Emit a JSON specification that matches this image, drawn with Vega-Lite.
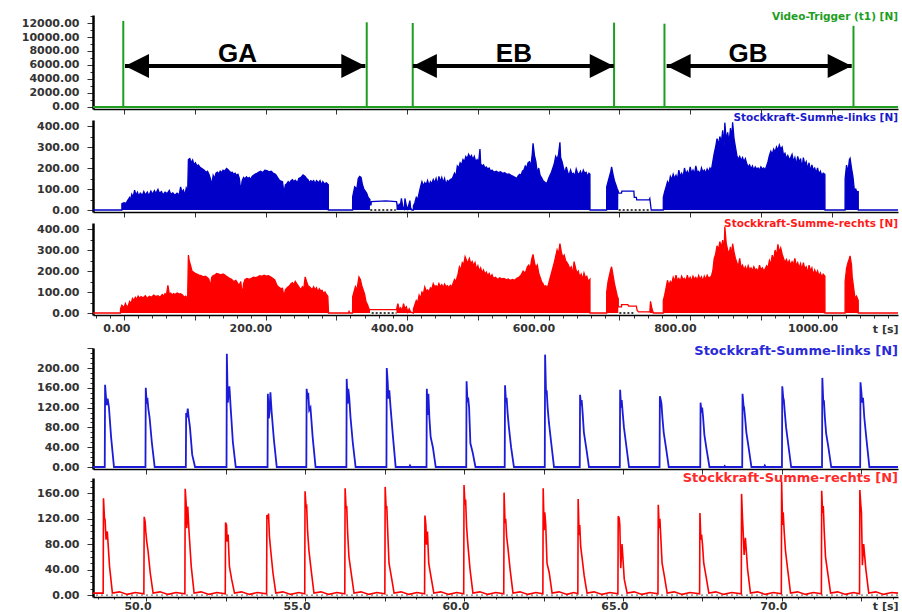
{
"$schema": "https://vega.github.io/schema/vega-lite/v6.json",
"background": "white",
"padding": {"left": 21, "top": 10, "right": 4, "bottom": 0},
"config": {
  "view": {"stroke": null},
  "axis": {"grid": false, "domainColor": "#000000", "tickColor": "#333333", "labelFont": "DejaVu Sans", "labelFontWeight": "bold", "labelFontSize": 11, "labelColor": "#333333", "labelOverlap": false, "titleFont": "DejaVu Sans", "tickCount": 500},
  "axisX": {"domainWidth": 1.5, "tickSize": 5},
  "axisY": {"domainWidth": 2.5, "tickSize": 6, "labelPadding": 8},
  "title": {"font": "DejaVu Sans", "fontSize": 10.5, "fontWeight": "bold", "anchor": "end", "frame": "group"}
},
"datasets": {
  "trig": [{"t":-1,"h":12300},{"t":343,"h":12100},{"t":408,"h":12000},{"t":692.5,"h":12050},{"t":763.7,"h":11900},{"t":1030.8,"h":11600}],
  "arrows": [{"a":1.4,"b":341},{"a":408.2,"b":692},{"a":766.8,"b":1028.3}],
  "heads": [{"t":1.4,"d":"L"},{"t":341,"d":"R"},{"t":408.2,"d":"L"},{"t":692,"d":"R"},{"t":766.8,"d":"L"},{"t":1028.3,"d":"R"}],
  "labels": [{"t":160.4,"s":"GA"},{"t":551,"s":"EB"},{"t":881.7,"s":"GB"}],
  "dotsB": [{"a":348,"b":384},{"a":699,"b":743}],
  "dotsR": [{"a":350,"b":385},{"a":700,"b":720}],
  "blueTop": [
{"t":-43.8,"v":0,"l":0},{"t":-3,"v":0,"l":0},{"t":-3,"v":30,"l":0},{"t":0,"v":35,"l":0},{"t":3,"v":32,"l":0},{"t":5,"v":45,"l":0},{"t":8,"v":60,"l":0},{"t":9,"v":40,"l":0},{"t":11,"v":75,"l":0},{"t":13,"v":62,"l":0},{"t":15,"v":95,"l":0},{"t":17,"v":70,"l":0},{"t":19,"v":85,"l":0},{"t":21,"v":65,"l":0},{"t":23,"v":80,"l":0},{"t":26,"v":70,"l":0},{"t":28,"v":88,"l":0},{"t":30,"v":72,"l":0},{"t":33,"v":85,"l":0},{"t":35,"v":68,"l":0},{"t":38,"v":90,"l":0},{"t":40,"v":75,"l":0},{"t":43,"v":92,"l":0},{"t":45,"v":78,"l":0},{"t":48,"v":98,"l":0},{"t":50,"v":80,"l":0},{"t":53,"v":88,"l":0},{"t":55,"v":72,"l":0},{"t":58,"v":85,"l":0},{"t":61,"v":78,"l":0},{"t":64,"v":93,"l":0},{"t":66,"v":75,"l":0},{"t":69,"v":82,"l":0},{"t":72,"v":70,"l":0},{"t":75,"v":80,"l":0},{"t":78,"v":72,"l":0},{"t":80,"v":110,"l":0},{"t":82,"v":85,"l":0},{"t":84,"v":95,"l":0},{"t":86,"v":70,"l":0},{"t":88,"v":105,"l":0},{"t":90,"v":90,"l":0},
{"t":91,"v":240,"l":0},{"t":93,"v":245,"l":0},{"t":95,"v":225,"l":0},{"t":97,"v":238,"l":0},{"t":99,"v":215,"l":0},{"t":101,"v":225,"l":0},{"t":103,"v":210,"l":0},{"t":105,"v":215,"l":0},{"t":107,"v":205,"l":0},{"t":110,"v":198,"l":0},{"t":113,"v":190,"l":0},{"t":116,"v":180,"l":0},{"t":118,"v":185,"l":0},{"t":120,"v":170,"l":0},{"t":122,"v":150,"l":0},{"t":124,"v":120,"l":0},{"t":126,"v":165,"l":0},{"t":128,"v":150,"l":0},{"t":130,"v":175,"l":0},{"t":132,"v":180,"l":0},{"t":134,"v":172,"l":0},{"t":136,"v":185,"l":0},{"t":138,"v":178,"l":0},{"t":140,"v":190,"l":0},{"t":142,"v":185,"l":0},{"t":145,"v":198,"l":0},{"t":147,"v":192,"l":0},{"t":149,"v":185,"l":0},{"t":151,"v":178,"l":0},{"t":153,"v":180,"l":0},{"t":155,"v":170,"l":0},{"t":157,"v":175,"l":0},{"t":159,"v":165,"l":0},{"t":161,"v":170,"l":0},{"t":163,"v":150,"l":0},{"t":165,"v":90,"l":0},{"t":167,"v":140,"l":0},{"t":169,"v":155,"l":0},{"t":171,"v":148,"l":0},{"t":173,"v":158,"l":0},{"t":175,"v":150,"l":0},{"t":177,"v":155,"l":0},{"t":179,"v":145,"l":0},{"t":181,"v":160,"l":0},{"t":183,"v":165,"l":0},{"t":186,"v":172,"l":0},{"t":188,"v":175,"l":0},{"t":190,"v":180,"l":0},{"t":193,"v":185,"l":0},{"t":196,"v":178,"l":0},{"t":199,"v":190,"l":0},{"t":202,"v":188,"l":0},{"t":205,"v":182,"l":0},{"t":208,"v":185,"l":0},{"t":211,"v":175,"l":0},{"t":214,"v":170,"l":0},{"t":216,"v":160,"l":0},{"t":218,"v":150,"l":0},{"t":220,"v":140,"l":0},{"t":222,"v":138,"l":0},{"t":224,"v":135,"l":0},{"t":226,"v":80,"l":0},{"t":228,"v":120,"l":0},{"t":230,"v":125,"l":0},{"t":232,"v":135,"l":0},{"t":234,"v":128,"l":0},{"t":236,"v":140,"l":0},{"t":238,"v":145,"l":0},{"t":240,"v":135,"l":0},{"t":242,"v":142,"l":0},{"t":245,"v":130,"l":0},{"t":247,"v":150,"l":0},{"t":250,"v":155,"l":0},{"t":253,"v":167,"l":0},{"t":256,"v":160,"l":0},{"t":258,"v":150,"l":0},{"t":260,"v":145,"l":0},{"t":262,"v":130,"l":0},{"t":264,"v":140,"l":0},{"t":266,"v":135,"l":0},{"t":268,"v":140,"l":0},{"t":270,"v":125,"l":0},{"t":272,"v":140,"l":0},{"t":275,"v":130,"l":0},{"t":277,"v":140,"l":0},{"t":279,"v":120,"l":0},{"t":281,"v":135,"l":0},{"t":283,"v":125,"l":0},{"t":286,"v":130,"l":0},{"t":288.7,"v":120,"l":0},{"t":288.8,"v":0,"l":0},
{"t":323,"v":0,"l":0},{"t":323.1,"v":63,"l":0},{"t":326,"v":110,"l":0},{"t":329,"v":100,"l":0},{"t":331,"v":150,"l":0},{"t":333,"v":160,"l":0},{"t":335,"v":155,"l":0},{"t":337,"v":120,"l":0},{"t":339,"v":100,"l":0},{"t":341,"v":90,"l":0},{"t":343,"v":80,"l":0},{"t":345,"v":60,"l":0},{"t":347.5,"v":50,"l":0},{"t":347.6,"v":24,"l":24},{"t":349,"v":24,"l":24},{"t":349.5,"v":40,"l":40},{"t":370,"v":43,"l":43},{"t":385,"v":40,"l":40},{"t":385.1,"v":40,"l":0},{"t":387,"v":10,"l":0},{"t":389,"v":30,"l":0},{"t":390,"v":10,"l":0},{"t":392,"v":55,"l":0},{"t":394,"v":15,"l":0},{"t":396,"v":5,"l":0},{"t":397,"v":55,"l":0},{"t":399,"v":20,"l":0},{"t":401,"v":5,"l":0},{"t":404,"v":45,"l":0},{"t":405,"v":10,"l":0},{"t":407,"v":0,"l":0},{"t":408.8,"v":0,"l":0},
{"t":409,"v":20,"l":0},{"t":411,"v":35,"l":0},{"t":413,"v":60,"l":0},{"t":415,"v":50,"l":0},{"t":417,"v":80,"l":0},{"t":419,"v":110,"l":0},{"t":421,"v":135,"l":0},{"t":423,"v":115,"l":0},{"t":425,"v":130,"l":0},{"t":427,"v":120,"l":0},{"t":429,"v":140,"l":0},{"t":431,"v":115,"l":0},{"t":433,"v":135,"l":0},{"t":435,"v":125,"l":0},{"t":437,"v":145,"l":0},{"t":439,"v":130,"l":0},{"t":441,"v":150,"l":0},{"t":443,"v":120,"l":0},{"t":445,"v":160,"l":0},{"t":447,"v":135,"l":0},{"t":449,"v":155,"l":0},{"t":451,"v":130,"l":0},{"t":453,"v":150,"l":0},{"t":455,"v":120,"l":0},{"t":457,"v":140,"l":0},{"t":459,"v":135,"l":0},{"t":461,"v":145,"l":0},{"t":464,"v":150,"l":0},{"t":467,"v":175,"l":0},{"t":469,"v":160,"l":0},{"t":471,"v":210,"l":0},{"t":473,"v":200,"l":0},{"t":475,"v":225,"l":0},{"t":477,"v":215,"l":0},{"t":479,"v":240,"l":0},{"t":481,"v":230,"l":0},{"t":483,"v":255,"l":0},{"t":485,"v":245,"l":0},{"t":487,"v":265,"l":0},{"t":489,"v":250,"l":0},{"t":491,"v":260,"l":0},{"t":493,"v":240,"l":0},{"t":495,"v":255,"l":0},{"t":497,"v":230,"l":0},{"t":499,"v":240,"l":0},{"t":501,"v":225,"l":0},{"t":503,"v":290,"l":0},{"t":504,"v":220,"l":0},{"t":506,"v":210,"l":0},{"t":508,"v":215,"l":0},{"t":510,"v":200,"l":0},{"t":512,"v":205,"l":0},{"t":514,"v":195,"l":0},{"t":516,"v":200,"l":0},{"t":518,"v":185,"l":0},{"t":520,"v":190,"l":0},{"t":523,"v":180,"l":0},{"t":526,"v":185,"l":0},{"t":529,"v":178,"l":0},{"t":532,"v":182,"l":0},{"t":535,"v":175,"l":0},{"t":538,"v":178,"l":0},{"t":541,"v":170,"l":0},{"t":544,"v":172,"l":0},{"t":547,"v":165,"l":0},{"t":550,"v":160,"l":0},{"t":553,"v":155,"l":0},{"t":555,"v":150,"l":0},{"t":557,"v":162,"l":0},{"t":559,"v":170,"l":0},{"t":561,"v":165,"l":0},{"t":563,"v":185,"l":0},{"t":565,"v":190,"l":0},{"t":567,"v":210,"l":0},{"t":569,"v":200,"l":0},{"t":571,"v":225,"l":0},{"t":573,"v":230,"l":0},{"t":575,"v":210,"l":0},{"t":577,"v":270,"l":0},{"t":578,"v":318,"l":0},{"t":580,"v":260,"l":0},{"t":582,"v":230,"l":0},{"t":584,"v":175,"l":0},{"t":586,"v":200,"l":0},{"t":588,"v":165,"l":0},{"t":590,"v":155,"l":0},{"t":592,"v":140,"l":0},{"t":594,"v":135,"l":0},{"t":596,"v":128,"l":0},{"t":598,"v":130,"l":0},{"t":600,"v":150,"l":0},{"t":602,"v":165,"l":0},{"t":604,"v":180,"l":0},{"t":606,"v":200,"l":0},{"t":608,"v":220,"l":0},{"t":610,"v":255,"l":0},{"t":612,"v":240,"l":0},{"t":614,"v":265,"l":0},{"t":616,"v":322,"l":0},{"t":617,"v":250,"l":0},{"t":619,"v":230,"l":0},{"t":621,"v":200,"l":0},{"t":623,"v":175,"l":0},{"t":625,"v":205,"l":0},{"t":627,"v":180,"l":0},{"t":629,"v":165,"l":0},{"t":631,"v":190,"l":0},{"t":633,"v":170,"l":0},{"t":635,"v":175,"l":0},{"t":637,"v":160,"l":0},{"t":639,"v":195,"l":0},{"t":641,"v":175,"l":0},{"t":643,"v":170,"l":0},{"t":645,"v":185,"l":0},{"t":647,"v":165,"l":0},{"t":649,"v":190,"l":0},{"t":651,"v":175,"l":0},{"t":653,"v":180,"l":0},{"t":655,"v":160,"l":0},{"t":657,"v":175,"l":0},{"t":658.4,"v":170,"l":0},{"t":658.5,"v":0,"l":0},
{"t":682,"v":0,"l":0},{"t":682.1,"v":110,"l":0},{"t":684,"v":135,"l":0},{"t":686,"v":160,"l":0},{"t":688,"v":185,"l":0},{"t":689,"v":206,"l":0},{"t":691,"v":170,"l":0},{"t":693,"v":140,"l":0},{"t":695,"v":120,"l":0},{"t":697,"v":100,"l":0},{"t":698.4,"v":90,"l":0},{"t":698.5,"v":80,"l":80},{"t":703,"v":80,"l":80},{"t":703.5,"v":90,"l":90},{"t":720.5,"v":90,"l":90},{"t":721,"v":60,"l":60},{"t":724,"v":60,"l":60},{"t":724.5,"v":48,"l":48},{"t":742,"v":48,"l":48},{"t":743,"v":55,"l":55},{"t":745,"v":0,"l":0},
{"t":762,"v":0,"l":0},{"t":762.1,"v":60,"l":0},{"t":764,"v":87,"l":0},{"t":766,"v":110,"l":0},{"t":768,"v":135,"l":0},{"t":770,"v":120,"l":0},{"t":772,"v":160,"l":0},{"t":774,"v":145,"l":0},{"t":776,"v":170,"l":0},{"t":778,"v":150,"l":0},{"t":780,"v":165,"l":0},{"t":782,"v":145,"l":0},{"t":784,"v":190,"l":0},{"t":786,"v":160,"l":0},{"t":788,"v":175,"l":0},{"t":790,"v":155,"l":0},{"t":792,"v":200,"l":0},{"t":794,"v":170,"l":0},{"t":796,"v":185,"l":0},{"t":798,"v":165,"l":0},{"t":800,"v":205,"l":0},{"t":802,"v":175,"l":0},{"t":804,"v":190,"l":0},{"t":806,"v":170,"l":0},{"t":808,"v":210,"l":0},{"t":810,"v":180,"l":0},{"t":812,"v":185,"l":0},{"t":814,"v":170,"l":0},{"t":816,"v":200,"l":0},{"t":818,"v":180,"l":0},{"t":820,"v":190,"l":0},{"t":822,"v":175,"l":0},{"t":824,"v":195,"l":0},{"t":826,"v":180,"l":0},{"t":828,"v":200,"l":0},{"t":830,"v":190,"l":0},{"t":832,"v":230,"l":0},{"t":834,"v":270,"l":0},{"t":836,"v":300,"l":0},{"t":838,"v":340,"l":0},{"t":840,"v":310,"l":0},{"t":842,"v":350,"l":0},{"t":844,"v":320,"l":0},{"t":846,"v":380,"l":0},{"t":848,"v":300,"l":0},{"t":849,"v":416,"l":0},{"t":851,"v":330,"l":0},{"t":853,"v":370,"l":0},{"t":855,"v":320,"l":0},{"t":857,"v":390,"l":0},{"t":859,"v":340,"l":0},{"t":860,"v":418,"l":0},{"t":862,"v":340,"l":0},{"t":864,"v":300,"l":0},{"t":866,"v":260,"l":0},{"t":868,"v":240,"l":0},{"t":870,"v":255,"l":0},{"t":872,"v":235,"l":0},{"t":874,"v":250,"l":0},{"t":876,"v":230,"l":0},{"t":878,"v":245,"l":0},{"t":880,"v":220,"l":0},{"t":882,"v":205,"l":0},{"t":884,"v":215,"l":0},{"t":886,"v":195,"l":0},{"t":888,"v":210,"l":0},{"t":890,"v":190,"l":0},{"t":892,"v":205,"l":0},{"t":894,"v":195,"l":0},{"t":896,"v":200,"l":0},{"t":898,"v":190,"l":0},{"t":900,"v":205,"l":0},{"t":902,"v":195,"l":0},{"t":904,"v":200,"l":0},{"t":906,"v":190,"l":0},{"t":908,"v":210,"l":0},{"t":910,"v":230,"l":0},{"t":912,"v":260,"l":0},{"t":914,"v":280,"l":0},{"t":916,"v":265,"l":0},{"t":918,"v":290,"l":0},{"t":920,"v":275,"l":0},{"t":922,"v":300,"l":0},{"t":924,"v":285,"l":0},{"t":926,"v":310,"l":0},{"t":928,"v":290,"l":0},{"t":930,"v":300,"l":0},{"t":932,"v":260,"l":0},{"t":934,"v":270,"l":0},{"t":936,"v":245,"l":0},{"t":938,"v":260,"l":0},{"t":940,"v":240,"l":0},{"t":942,"v":250,"l":0},{"t":944,"v":265,"l":0},{"t":946,"v":230,"l":0},{"t":948,"v":250,"l":0},{"t":950,"v":215,"l":0},{"t":952,"v":255,"l":0},{"t":954,"v":225,"l":0},{"t":956,"v":245,"l":0},{"t":958,"v":200,"l":0},{"t":960,"v":250,"l":0},{"t":962,"v":215,"l":0},{"t":964,"v":230,"l":0},{"t":966,"v":195,"l":0},{"t":968,"v":225,"l":0},{"t":970,"v":185,"l":0},{"t":972,"v":215,"l":0},{"t":974,"v":190,"l":0},{"t":976,"v":200,"l":0},{"t":978,"v":175,"l":0},{"t":980,"v":200,"l":0},{"t":982,"v":170,"l":0},{"t":984,"v":185,"l":0},{"t":986,"v":165,"l":0},{"t":988,"v":175,"l":0},{"t":990.4,"v":170,"l":0},{"t":990.5,"v":0,"l":0},
{"t":1018.9,"v":0,"l":0},{"t":1019,"v":150,"l":0},{"t":1021,"v":214,"l":0},{"t":1023,"v":180,"l":0},{"t":1025,"v":240,"l":0},{"t":1026,"v":246,"l":0},{"t":1028,"v":200,"l":0},{"t":1030,"v":160,"l":0},{"t":1032,"v":95,"l":0},{"t":1034,"v":100,"l":0},{"t":1036,"v":80,"l":0},{"t":1037.5,"v":90,"l":0},{"t":1037.6,"v":0,"l":0},{"t":1093.7,"v":0,"l":0}
  ],
  "redTop": [
{"t":-43.8,"v":0,"l":0},{"t":-5,"v":0,"l":0},{"t":-4.9,"v":20,"l":0},{"t":-3,"v":37,"l":0},{"t":0,"v":25,"l":0},{"t":2,"v":45,"l":0},{"t":4,"v":30,"l":0},{"t":6,"v":35,"l":0},{"t":8,"v":55,"l":0},{"t":10,"v":45,"l":0},{"t":12,"v":69,"l":0},{"t":14,"v":60,"l":0},{"t":16,"v":75,"l":0},{"t":18,"v":65,"l":0},{"t":20,"v":80,"l":0},{"t":22,"v":70,"l":0},{"t":24,"v":78,"l":0},{"t":27,"v":72,"l":0},{"t":30,"v":82,"l":0},{"t":33,"v":70,"l":0},{"t":36,"v":80,"l":0},{"t":39,"v":75,"l":0},{"t":42,"v":85,"l":0},{"t":45,"v":78,"l":0},{"t":48,"v":82,"l":0},{"t":51,"v":75,"l":0},{"t":54,"v":88,"l":0},{"t":56,"v":80,"l":0},{"t":58,"v":92,"l":0},{"t":60,"v":85,"l":0},{"t":62,"v":132,"l":0},{"t":64,"v":90,"l":0},{"t":66,"v":95,"l":0},{"t":68,"v":85,"l":0},{"t":70,"v":92,"l":0},{"t":72,"v":88,"l":0},{"t":75,"v":95,"l":0},{"t":78,"v":90,"l":0},{"t":80,"v":92,"l":0},{"t":83,"v":85,"l":0},{"t":85,"v":75,"l":0},{"t":87,"v":80,"l":0},{"t":89,"v":70,"l":0},{"t":90,"v":85,"l":0},
{"t":91,"v":276,"l":0},{"t":92,"v":250,"l":0},{"t":94,"v":228,"l":0},{"t":96,"v":200,"l":0},{"t":98,"v":195,"l":0},{"t":100,"v":190,"l":0},{"t":103,"v":185,"l":0},{"t":106,"v":180,"l":0},{"t":109,"v":178,"l":0},{"t":112,"v":172,"l":0},{"t":115,"v":175,"l":0},{"t":118,"v":168,"l":0},{"t":120,"v":160,"l":0},{"t":122,"v":124,"l":0},{"t":124,"v":170,"l":0},{"t":126,"v":178,"l":0},{"t":128,"v":180,"l":0},{"t":131,"v":188,"l":0},{"t":134,"v":185,"l":0},{"t":137,"v":182,"l":0},{"t":140,"v":186,"l":0},{"t":143,"v":180,"l":0},{"t":146,"v":172,"l":0},{"t":149,"v":165,"l":0},{"t":152,"v":160,"l":0},{"t":155,"v":150,"l":0},{"t":158,"v":155,"l":0},{"t":161,"v":140,"l":0},{"t":163,"v":132,"l":0},{"t":165,"v":150,"l":0},{"t":167,"v":85,"l":0},{"t":169,"v":140,"l":0},{"t":171,"v":160,"l":0},{"t":174,"v":165,"l":0},{"t":177,"v":160,"l":0},{"t":180,"v":165,"l":0},{"t":183,"v":170,"l":0},{"t":186,"v":168,"l":0},{"t":189,"v":172,"l":0},{"t":192,"v":178,"l":0},{"t":195,"v":175,"l":0},{"t":198,"v":180,"l":0},{"t":201,"v":176,"l":0},{"t":204,"v":178,"l":0},{"t":207,"v":172,"l":0},{"t":210,"v":165,"l":0},{"t":213,"v":158,"l":0},{"t":216,"v":132,"l":0},{"t":218,"v":125,"l":0},{"t":220,"v":120,"l":0},{"t":222,"v":116,"l":0},{"t":224,"v":118,"l":0},{"t":226,"v":77,"l":0},{"t":228,"v":110,"l":0},{"t":230,"v":118,"l":0},{"t":232,"v":125,"l":0},{"t":234,"v":130,"l":0},{"t":236,"v":140,"l":0},{"t":238,"v":145,"l":0},{"t":240,"v":135,"l":0},{"t":242,"v":151,"l":0},{"t":244,"v":140,"l":0},{"t":246,"v":130,"l":0},{"t":248,"v":120,"l":0},{"t":250,"v":112,"l":0},{"t":252,"v":125,"l":0},{"t":254,"v":115,"l":0},{"t":256,"v":172,"l":0},{"t":258,"v":150,"l":0},{"t":260,"v":130,"l":0},{"t":262,"v":125,"l":0},{"t":264,"v":118,"l":0},{"t":266,"v":112,"l":0},{"t":268,"v":125,"l":0},{"t":270,"v":110,"l":0},{"t":272,"v":120,"l":0},{"t":274,"v":100,"l":0},{"t":276,"v":115,"l":0},{"t":278,"v":105,"l":0},{"t":280,"v":108,"l":0},{"t":282,"v":92,"l":0},{"t":284,"v":100,"l":0},{"t":286,"v":88,"l":0},{"t":288,"v":80,"l":0},{"t":289,"v":0,"l":0},
{"t":317,"v":0,"l":0},{"t":318,"v":8,"l":0},{"t":319,"v":0,"l":0},{"t":323,"v":0,"l":0},{"t":323.1,"v":77,"l":0},{"t":325,"v":100,"l":0},{"t":327,"v":125,"l":0},{"t":329,"v":110,"l":0},{"t":331,"v":150,"l":0},{"t":332,"v":172,"l":0},{"t":334,"v":160,"l":0},{"t":336,"v":130,"l":0},{"t":338,"v":110,"l":0},{"t":340,"v":90,"l":0},{"t":342,"v":53,"l":0},{"t":344,"v":40,"l":0},{"t":346,"v":20,"l":0},{"t":347.6,"v":16,"l":0},{"t":347.7,"v":16,"l":16},{"t":385,"v":16,"l":16},{"t":385.1,"v":16,"l":0},{"t":387,"v":45,"l":0},{"t":389,"v":15,"l":0},{"t":391,"v":25,"l":0},{"t":393,"v":10,"l":0},{"t":395,"v":45,"l":0},{"t":397,"v":20,"l":0},{"t":399,"v":30,"l":0},{"t":401,"v":5,"l":0},{"t":403,"v":20,"l":0},{"t":405,"v":5,"l":0},{"t":408.9,"v":0,"l":0},
{"t":409,"v":20,"l":0},{"t":411,"v":40,"l":0},{"t":413,"v":60,"l":0},{"t":415,"v":50,"l":0},{"t":417,"v":85,"l":0},{"t":419,"v":70,"l":0},{"t":421,"v":100,"l":0},{"t":423,"v":90,"l":0},{"t":425,"v":124,"l":0},{"t":427,"v":105,"l":0},{"t":429,"v":110,"l":0},{"t":431,"v":100,"l":0},{"t":433,"v":120,"l":0},{"t":435,"v":115,"l":0},{"t":437,"v":140,"l":0},{"t":439,"v":125,"l":0},{"t":441,"v":130,"l":0},{"t":443,"v":120,"l":0},{"t":445,"v":140,"l":0},{"t":447,"v":125,"l":0},{"t":449,"v":135,"l":0},{"t":451,"v":120,"l":0},{"t":453,"v":138,"l":0},{"t":455,"v":125,"l":0},{"t":457,"v":130,"l":0},{"t":459,"v":120,"l":0},{"t":461,"v":132,"l":0},{"t":463,"v":125,"l":0},{"t":465,"v":140,"l":0},{"t":467,"v":160,"l":0},{"t":469,"v":150,"l":0},{"t":472,"v":185,"l":0},{"t":474,"v":220,"l":0},{"t":476,"v":205,"l":0},{"t":478,"v":240,"l":0},{"t":480,"v":230,"l":0},{"t":482,"v":268,"l":0},{"t":484,"v":250,"l":0},{"t":486,"v":240,"l":0},{"t":488,"v":260,"l":0},{"t":490,"v":235,"l":0},{"t":492,"v":245,"l":0},{"t":494,"v":225,"l":0},{"t":496,"v":240,"l":0},{"t":498,"v":210,"l":0},{"t":500,"v":225,"l":0},{"t":502,"v":200,"l":0},{"t":504,"v":215,"l":0},{"t":506,"v":190,"l":0},{"t":508,"v":205,"l":0},{"t":510,"v":185,"l":0},{"t":512,"v":195,"l":0},{"t":514,"v":178,"l":0},{"t":516,"v":188,"l":0},{"t":518,"v":170,"l":0},{"t":520,"v":182,"l":0},{"t":522,"v":165,"l":0},{"t":525,"v":170,"l":0},{"t":528,"v":160,"l":0},{"t":531,"v":168,"l":0},{"t":534,"v":162,"l":0},{"t":537,"v":165,"l":0},{"t":540,"v":158,"l":0},{"t":543,"v":162,"l":0},{"t":546,"v":155,"l":0},{"t":549,"v":160,"l":0},{"t":552,"v":156,"l":0},{"t":555,"v":165,"l":0},{"t":558,"v":170,"l":0},{"t":561,"v":180,"l":0},{"t":564,"v":200,"l":0},{"t":567,"v":190,"l":0},{"t":570,"v":220,"l":0},{"t":572,"v":228,"l":0},{"t":574,"v":210,"l":0},{"t":576,"v":255,"l":0},{"t":578,"v":279,"l":0},{"t":580,"v":240,"l":0},{"t":582,"v":215,"l":0},{"t":584,"v":228,"l":0},{"t":586,"v":190,"l":0},{"t":588,"v":170,"l":0},{"t":590,"v":150,"l":0},{"t":592,"v":140,"l":0},{"t":594,"v":125,"l":0},{"t":596,"v":130,"l":0},{"t":598,"v":118,"l":0},{"t":600,"v":140,"l":0},{"t":602,"v":165,"l":0},{"t":604,"v":190,"l":0},{"t":606,"v":215,"l":0},{"t":608,"v":240,"l":0},{"t":610,"v":270,"l":0},{"t":612,"v":300,"l":0},{"t":614,"v":280,"l":0},{"t":616,"v":331,"l":0},{"t":618,"v":290,"l":0},{"t":620,"v":265,"l":0},{"t":622,"v":276,"l":0},{"t":624,"v":250,"l":0},{"t":626,"v":240,"l":0},{"t":628,"v":228,"l":0},{"t":630,"v":210,"l":0},{"t":632,"v":220,"l":0},{"t":634,"v":185,"l":0},{"t":636,"v":245,"l":0},{"t":638,"v":215,"l":0},{"t":640,"v":190,"l":0},{"t":642,"v":200,"l":0},{"t":644,"v":170,"l":0},{"t":646,"v":185,"l":0},{"t":648,"v":160,"l":0},{"t":650,"v":190,"l":0},{"t":652,"v":168,"l":0},{"t":654,"v":175,"l":0},{"t":656,"v":150,"l":0},{"t":658.4,"v":160,"l":0},{"t":658.5,"v":0,"l":0},
{"t":682,"v":0,"l":0},{"t":682.1,"v":100,"l":0},{"t":684,"v":150,"l":0},{"t":686,"v":180,"l":0},{"t":688,"v":210,"l":0},{"t":689,"v":220,"l":0},{"t":691,"v":180,"l":0},{"t":693,"v":140,"l":0},{"t":695,"v":110,"l":0},{"t":697,"v":80,"l":0},{"t":698.4,"v":69,"l":0},{"t":698.5,"v":29,"l":29},{"t":703,"v":29,"l":29},{"t":703.1,"v":40,"l":40},{"t":712,"v":40,"l":40},{"t":713,"v":33,"l":33},{"t":724,"v":33,"l":33},{"t":725,"v":13,"l":13},{"t":727,"v":5,"l":5},{"t":742.9,"v":5,"l":5},{"t":743,"v":5,"l":0},{"t":744,"v":56,"l":0},{"t":746,"v":20,"l":0},{"t":748,"v":0,"l":0},
{"t":762,"v":0,"l":0},{"t":762.1,"v":60,"l":0},{"t":764,"v":85,"l":0},{"t":766,"v":120,"l":0},{"t":768,"v":156,"l":0},{"t":770,"v":130,"l":0},{"t":772,"v":150,"l":0},{"t":774,"v":140,"l":0},{"t":776,"v":170,"l":0},{"t":778,"v":150,"l":0},{"t":780,"v":180,"l":0},{"t":782,"v":155,"l":0},{"t":784,"v":165,"l":0},{"t":786,"v":150,"l":0},{"t":788,"v":175,"l":0},{"t":790,"v":160,"l":0},{"t":792,"v":165,"l":0},{"t":794,"v":150,"l":0},{"t":796,"v":180,"l":0},{"t":798,"v":155,"l":0},{"t":800,"v":170,"l":0},{"t":802,"v":150,"l":0},{"t":804,"v":175,"l":0},{"t":806,"v":160,"l":0},{"t":808,"v":170,"l":0},{"t":810,"v":155,"l":0},{"t":812,"v":178,"l":0},{"t":814,"v":160,"l":0},{"t":816,"v":172,"l":0},{"t":818,"v":150,"l":0},{"t":820,"v":175,"l":0},{"t":822,"v":160,"l":0},{"t":824,"v":180,"l":0},{"t":826,"v":165,"l":0},{"t":828,"v":170,"l":0},{"t":830,"v":175,"l":0},{"t":832,"v":200,"l":0},{"t":834,"v":260,"l":0},{"t":836,"v":280,"l":0},{"t":838,"v":320,"l":0},{"t":840,"v":300,"l":0},{"t":842,"v":340,"l":0},{"t":844,"v":310,"l":0},{"t":846,"v":347,"l":0},{"t":848,"v":290,"l":0},{"t":849,"v":411,"l":0},{"t":851,"v":330,"l":0},{"t":853,"v":300,"l":0},{"t":855,"v":280,"l":0},{"t":857,"v":315,"l":0},{"t":859,"v":270,"l":0},{"t":860,"v":330,"l":0},{"t":862,"v":290,"l":0},{"t":864,"v":260,"l":0},{"t":866,"v":240,"l":0},{"t":868,"v":220,"l":0},{"t":870,"v":260,"l":0},{"t":872,"v":215,"l":0},{"t":874,"v":228,"l":0},{"t":876,"v":205,"l":0},{"t":878,"v":220,"l":0},{"t":880,"v":200,"l":0},{"t":882,"v":225,"l":0},{"t":884,"v":205,"l":0},{"t":886,"v":215,"l":0},{"t":888,"v":200,"l":0},{"t":890,"v":220,"l":0},{"t":892,"v":205,"l":0},{"t":894,"v":210,"l":0},{"t":896,"v":196,"l":0},{"t":898,"v":228,"l":0},{"t":900,"v":205,"l":0},{"t":902,"v":215,"l":0},{"t":904,"v":200,"l":0},{"t":906,"v":210,"l":0},{"t":908,"v":225,"l":0},{"t":910,"v":215,"l":0},{"t":912,"v":250,"l":0},{"t":914,"v":230,"l":0},{"t":916,"v":276,"l":0},{"t":918,"v":250,"l":0},{"t":920,"v":300,"l":0},{"t":922,"v":270,"l":0},{"t":924,"v":327,"l":0},{"t":926,"v":290,"l":0},{"t":928,"v":310,"l":0},{"t":930,"v":280,"l":0},{"t":932,"v":260,"l":0},{"t":934,"v":240,"l":0},{"t":936,"v":255,"l":0},{"t":938,"v":235,"l":0},{"t":940,"v":250,"l":0},{"t":942,"v":228,"l":0},{"t":944,"v":245,"l":0},{"t":946,"v":230,"l":0},{"t":948,"v":260,"l":0},{"t":950,"v":225,"l":0},{"t":952,"v":240,"l":0},{"t":954,"v":215,"l":0},{"t":956,"v":235,"l":0},{"t":958,"v":205,"l":0},{"t":960,"v":240,"l":0},{"t":962,"v":210,"l":0},{"t":964,"v":220,"l":0},{"t":966,"v":190,"l":0},{"t":968,"v":228,"l":0},{"t":970,"v":200,"l":0},{"t":972,"v":215,"l":0},{"t":974,"v":180,"l":0},{"t":976,"v":205,"l":0},{"t":978,"v":185,"l":0},{"t":980,"v":200,"l":0},{"t":982,"v":175,"l":0},{"t":984,"v":190,"l":0},{"t":986,"v":170,"l":0},{"t":988,"v":185,"l":0},{"t":990.4,"v":175,"l":0},{"t":990.5,"v":0,"l":0},
{"t":1018.9,"v":0,"l":0},{"t":1019,"v":150,"l":0},{"t":1021,"v":212,"l":0},{"t":1023,"v":240,"l":0},{"t":1025,"v":260,"l":0},{"t":1026,"v":272,"l":0},{"t":1028,"v":230,"l":0},{"t":1029,"v":172,"l":0},{"t":1031,"v":120,"l":0},{"t":1033,"v":69,"l":0},{"t":1035,"v":80,"l":0},{"t":1037.5,"v":60,"l":0},{"t":1037.6,"v":0,"l":0},{"t":1093.7,"v":0,"l":0}
  ],
  "blueBot": [
{"t":48.33,"v":0},
{"t":48.70,"v":0},{"t":48.71,"v":166},{"t":48.74,"v":140},{"t":48.76,"v":125},{"t":48.79,"v":138},{"t":48.83,"v":122},{"t":48.90,"v":60},{"t":48.99,"v":0},
{"t":49.98,"v":0},{"t":49.99,"v":160},{"t":50.02,"v":128},{"t":50.04,"v":140},{"t":50.07,"v":118},{"t":50.11,"v":100},{"t":50.18,"v":50},{"t":50.27,"v":0},
{"t":51.25,"v":0},{"t":51.26,"v":109},{"t":51.29,"v":105},{"t":51.31,"v":118},{"t":51.34,"v":100},{"t":51.38,"v":80},{"t":51.45,"v":25},{"t":51.54,"v":0},
{"t":52.53,"v":0},{"t":52.54,"v":229},{"t":52.57,"v":130},{"t":52.59,"v":145},{"t":52.62,"v":163},{"t":52.66,"v":120},{"t":52.73,"v":50},{"t":52.82,"v":0},
{"t":53.82,"v":0},{"t":53.83,"v":148},{"t":53.86,"v":98},{"t":53.88,"v":110},{"t":53.91,"v":151},{"t":53.95,"v":110},{"t":54.02,"v":55},{"t":54.11,"v":0},
{"t":55.04,"v":0},{"t":55.05,"v":158},{"t":55.08,"v":138},{"t":55.10,"v":150},{"t":55.13,"v":115},{"t":55.17,"v":120},{"t":55.24,"v":60},{"t":55.33,"v":0},
{"t":56.30,"v":0},{"t":56.31,"v":178},{"t":56.34,"v":128},{"t":56.36,"v":158},{"t":56.39,"v":140},{"t":56.43,"v":100},{"t":56.50,"v":50},{"t":56.59,"v":0},
{"t":57.56,"v":0},{"t":57.57,"v":200},{"t":57.60,"v":171},{"t":57.62,"v":138},{"t":57.65,"v":155},{"t":57.69,"v":120},{"t":57.76,"v":65},{"t":57.85,"v":0},
{"t":58.28,"v":0},{"t":58.30,"v":3},{"t":58.33,"v":0},
{"t":58.82,"v":0},{"t":58.83,"v":158},{"t":58.86,"v":105},{"t":58.88,"v":148},{"t":58.91,"v":100},{"t":58.95,"v":61},{"t":59.02,"v":40},{"t":59.11,"v":0},
{"t":60.07,"v":0},{"t":60.08,"v":173},{"t":60.11,"v":131},{"t":60.13,"v":140},{"t":60.16,"v":120},{"t":60.20,"v":48},{"t":60.27,"v":30},{"t":60.36,"v":0},
{"t":61.28,"v":0},{"t":61.29,"v":165},{"t":61.32,"v":131},{"t":61.34,"v":140},{"t":61.37,"v":110},{"t":61.41,"v":81},{"t":61.48,"v":40},{"t":61.57,"v":0},
{"t":62.54,"v":0},{"t":62.55,"v":227},{"t":62.58,"v":148},{"t":62.60,"v":155},{"t":62.63,"v":120},{"t":62.67,"v":90},{"t":62.74,"v":50},{"t":62.83,"v":0},
{"t":63.64,"v":0},{"t":63.65,"v":146},{"t":63.68,"v":125},{"t":63.70,"v":135},{"t":63.73,"v":110},{"t":63.77,"v":70},{"t":63.84,"v":40},{"t":63.93,"v":0},
{"t":64.90,"v":0},{"t":64.91,"v":156},{"t":64.94,"v":120},{"t":64.96,"v":135},{"t":64.99,"v":110},{"t":65.03,"v":80},{"t":65.10,"v":45},{"t":65.19,"v":0},
{"t":66.15,"v":0},{"t":66.16,"v":143},{"t":66.19,"v":135},{"t":66.21,"v":128},{"t":66.24,"v":100},{"t":66.28,"v":70},{"t":66.35,"v":40},{"t":66.44,"v":0},
{"t":67.43,"v":0},{"t":67.44,"v":130},{"t":67.47,"v":110},{"t":67.49,"v":120},{"t":67.52,"v":100},{"t":67.56,"v":65},{"t":67.63,"v":35},{"t":67.72,"v":0},
{"t":68.18,"v":0},{"t":68.20,"v":2},{"t":68.23,"v":0},
{"t":68.75,"v":0},{"t":68.76,"v":148},{"t":68.79,"v":125},{"t":68.81,"v":120},{"t":68.84,"v":100},{"t":68.88,"v":70},{"t":68.95,"v":40},{"t":69.04,"v":0},
{"t":69.44,"v":0},{"t":69.46,"v":3},{"t":69.49,"v":0},
{"t":70.00,"v":0},{"t":70.01,"v":163},{"t":70.04,"v":140},{"t":70.06,"v":135},{"t":70.09,"v":110},{"t":70.13,"v":80},{"t":70.20,"v":45},{"t":70.29,"v":0},
{"t":71.26,"v":0},{"t":71.27,"v":180},{"t":71.30,"v":131},{"t":71.32,"v":135},{"t":71.35,"v":100},{"t":71.39,"v":68},{"t":71.46,"v":40},{"t":71.55,"v":0},
{"t":72.46,"v":0},{"t":72.47,"v":171},{"t":72.50,"v":150},{"t":72.52,"v":130},{"t":72.55,"v":140},{"t":72.59,"v":100},{"t":72.66,"v":55},{"t":72.75,"v":0},
{"t":73.65,"v":0}
  ],
  "redBot": [
{"t":48.33,"v":3},
{"t":48.65,"v":3},{"t":48.66,"v":152},{"t":48.69,"v":121},{"t":48.71,"v":118},{"t":48.74,"v":87},{"t":48.78,"v":100},{"t":48.85,"v":45},{"t":48.94,"v":3},{"t":49.16,"v":5},{"t":49.41,"v":1},{"t":49.66,"v":4},
{"t":49.93,"v":2},{"t":49.94,"v":123},{"t":49.97,"v":115},{"t":49.99,"v":100},{"t":50.02,"v":84},{"t":50.06,"v":70},{"t":50.13,"v":35},{"t":50.22,"v":3},{"t":50.44,"v":5},{"t":50.69,"v":1},{"t":50.94,"v":4},
{"t":51.22,"v":2},{"t":51.23,"v":167},{"t":51.26,"v":144},{"t":51.28,"v":105},{"t":51.31,"v":139},{"t":51.35,"v":100},{"t":51.42,"v":45},{"t":51.51,"v":3},{"t":51.73,"v":5},{"t":51.98,"v":1},{"t":52.23,"v":4},
{"t":52.49,"v":2},{"t":52.50,"v":114},{"t":52.53,"v":110},{"t":52.55,"v":84},{"t":52.58,"v":95},{"t":52.62,"v":45},{"t":52.69,"v":25},{"t":52.78,"v":3},{"t":53.0,"v":5},{"t":53.25,"v":1},{"t":53.5,"v":4},
{"t":53.79,"v":2},{"t":53.80,"v":126},{"t":53.83,"v":120},{"t":53.85,"v":128},{"t":53.88,"v":92},{"t":53.92,"v":70},{"t":53.99,"v":35},{"t":54.08,"v":3},{"t":54.3,"v":5},{"t":54.55,"v":1},{"t":54.8,"v":4},
{"t":54.99,"v":2},{"t":55.00,"v":163},{"t":55.03,"v":139},{"t":55.05,"v":140},{"t":55.08,"v":100},{"t":55.12,"v":71},{"t":55.19,"v":40},{"t":55.28,"v":3},{"t":55.5,"v":5},{"t":55.75,"v":1},{"t":56.0,"v":4},
{"t":56.25,"v":2},{"t":56.26,"v":168},{"t":56.29,"v":136},{"t":56.31,"v":140},{"t":56.34,"v":97},{"t":56.38,"v":60},{"t":56.45,"v":35},{"t":56.54,"v":3},{"t":56.76,"v":5},{"t":57.01,"v":1},{"t":57.26,"v":4},
{"t":57.51,"v":2},{"t":57.52,"v":170},{"t":57.55,"v":136},{"t":57.57,"v":140},{"t":57.60,"v":100},{"t":57.64,"v":50},{"t":57.71,"v":30},{"t":57.80,"v":3},{"t":58.02,"v":5},{"t":58.27,"v":1},{"t":58.52,"v":4},
{"t":58.76,"v":2},{"t":58.77,"v":125},{"t":58.80,"v":110},{"t":58.82,"v":79},{"t":58.85,"v":100},{"t":58.89,"v":50},{"t":58.96,"v":29},{"t":59.05,"v":3},{"t":59.27,"v":5},{"t":59.52,"v":1},{"t":59.77,"v":4},
{"t":59.99,"v":2},{"t":60.00,"v":173},{"t":60.03,"v":142},{"t":60.05,"v":150},{"t":60.08,"v":108},{"t":60.12,"v":80},{"t":60.19,"v":40},{"t":60.28,"v":3},{"t":60.5,"v":5},{"t":60.75,"v":1},{"t":61.0,"v":4},
{"t":61.25,"v":2},{"t":61.26,"v":161},{"t":61.29,"v":113},{"t":61.31,"v":120},{"t":61.34,"v":92},{"t":61.38,"v":75},{"t":61.45,"v":40},{"t":61.54,"v":3},{"t":61.76,"v":5},{"t":62.01,"v":1},{"t":62.26,"v":4},
{"t":62.48,"v":2},{"t":62.49,"v":168},{"t":62.52,"v":102},{"t":62.54,"v":130},{"t":62.57,"v":110},{"t":62.61,"v":50},{"t":62.68,"v":35},{"t":62.77,"v":3},{"t":62.99,"v":5},{"t":63.24,"v":1},{"t":63.45,"v":4},
{"t":63.58,"v":2},{"t":63.59,"v":151},{"t":63.62,"v":94},{"t":63.64,"v":110},{"t":63.67,"v":76},{"t":63.71,"v":60},{"t":63.78,"v":30},{"t":63.87,"v":3},{"t":64.09,"v":5},{"t":64.34,"v":1},{"t":64.59,"v":4},
{"t":64.84,"v":2},{"t":64.85,"v":124},{"t":64.88,"v":121},{"t":64.90,"v":110},{"t":64.93,"v":42},{"t":64.97,"v":80},{"t":65.04,"v":25},{"t":65.13,"v":3},{"t":65.35,"v":5},{"t":65.6,"v":1},{"t":65.85,"v":4},
{"t":66.10,"v":2},{"t":66.11,"v":142},{"t":66.14,"v":105},{"t":66.16,"v":120},{"t":66.19,"v":90},{"t":66.23,"v":50},{"t":66.30,"v":30},{"t":66.39,"v":3},{"t":66.61,"v":5},{"t":66.86,"v":1},{"t":67.11,"v":4},
{"t":67.41,"v":2},{"t":67.42,"v":129},{"t":67.45,"v":87},{"t":67.47,"v":95},{"t":67.50,"v":80},{"t":67.54,"v":50},{"t":67.61,"v":30},{"t":67.70,"v":3},{"t":67.92,"v":5},{"t":68.17,"v":1},{"t":68.42,"v":4},
{"t":68.72,"v":2},{"t":68.73,"v":159},{"t":68.76,"v":120},{"t":68.78,"v":100},{"t":68.81,"v":63},{"t":68.85,"v":90},{"t":68.92,"v":40},{"t":69.01,"v":3},{"t":69.23,"v":5},{"t":69.48,"v":1},{"t":69.73,"v":4},
{"t":69.98,"v":2},{"t":69.99,"v":178},{"t":70.02,"v":110},{"t":70.04,"v":130},{"t":70.07,"v":100},{"t":70.11,"v":70},{"t":70.18,"v":40},{"t":70.27,"v":3},{"t":70.49,"v":5},{"t":70.74,"v":1},{"t":70.99,"v":4},
{"t":71.24,"v":2},{"t":71.25,"v":164},{"t":71.28,"v":129},{"t":71.30,"v":140},{"t":71.33,"v":100},{"t":71.37,"v":60},{"t":71.44,"v":35},{"t":71.53,"v":3},{"t":71.75,"v":5},{"t":72.0,"v":1},{"t":72.25,"v":4},
{"t":72.44,"v":2},{"t":72.45,"v":165},{"t":72.48,"v":142},{"t":72.50,"v":130},{"t":72.53,"v":47},{"t":72.57,"v":80},{"t":72.64,"v":40},{"t":72.73,"v":3},{"t":72.95,"v":5},{"t":73.2,"v":1},{"t":73.45,"v":4},
{"t":73.65,"v":3}
  ]
},
"spacing": 8,
"resolve": {"scale": {"x": "independent", "y": "independent"}},
"vconcat": [
 {
  "spacing": 11,
  "bounds": "flush",
  "resolve": {"scale": {"x": "independent", "y": "independent"}},
  "vconcat": [
   {
    "width": 805, "height": 94,
    "title": {"text": "Video-Trigger (t1) [N]", "color": "#1e9e1e", "offset": -12.5},
    "layer": [
     {"data": {"name": "trig"}, "mark": {"type": "rule", "color": "#1e9e1e", "strokeWidth": 2},
      "encoding": {
       "x": {"field": "t", "type": "quantitative", "scale": {"domain": [-43.8, 1093.7], "nice": false, "zero": false}, "axis": {"values": [0,100,200,300,400,500,600,700,800,900,1000], "tickCount": 500, "labels": false, "title": null}},
       "y": {"field": "h", "type": "quantitative", "scale": {"domain": [-286, 13143], "nice": false, "zero": false},
        "axis": {"values": [0,1000,2000,3000,4000,5000,6000,7000,8000,9000,10000,11000,12000,13000], "tickCount": 500, "labelExpr": "datum.value % 2000 === 0 && datum.value <= 12000 ? format(datum.value, '.2f') : ''", "tickSize": {"condition": {"test": "datum.value % 2000 === 0", "value": 6}, "value": 3}, "title": null}},
       "y2": {"datum": 0}
      }},
     {"data": {"values": [{"v": 0}]}, "mark": {"type": "rule", "color": "#1e9e1e", "strokeWidth": 2},
      "encoding": {"y": {"field": "v", "type": "quantitative"}}},
     {"data": {"name": "arrows"}, "mark": {"type": "rule", "color": "#000000", "strokeWidth": 4},
      "encoding": {"x": {"field": "a", "type": "quantitative"}, "x2": {"field": "b"}, "y": {"datum": 5850, "type": "quantitative"}}},
     {"data": {"name": "heads"}, "mark": {"type": "point", "filled": true, "opacity": 1, "color": "#000000", "size": 576, "strokeWidth": 0},
      "encoding": {"x": {"field": "t", "type": "quantitative"}, "y": {"datum": 5850, "type": "quantitative"},
       "shape": {"field": "d", "type": "nominal", "scale": {"domain": ["L", "R"], "range": ["M0,0L2,-1L2,1Z", "M0,0L-2,-1L-2,1Z"]}, "legend": null}}},
     {"data": {"name": "labels"}, "mark": {"type": "text", "font": "Liberation Sans", "fontWeight": "bold", "fontSize": 26, "color": "#000000", "baseline": "alphabetic", "align": "center"},
      "encoding": {"x": {"field": "t", "type": "quantitative"}, "y": {"datum": 6400, "type": "quantitative"}, "text": {"field": "s"}}}
    ]
   },
   {
    "width": 805, "height": 92,
    "title": {"text": "Stockkraft-Summe-links [N]", "color": "#1a1acc", "offset": -4},
    "layer": [
     {"data": {"name": "blueTop"}, "mark": {"type": "area", "color": "#0000c8", "opacity": 1},
      "encoding": {
       "x": {"field": "t", "type": "quantitative", "scale": {"domain": [-43.8, 1093.7], "nice": false, "zero": false}, "axis": {"values": [0,100,200,300,400,500,600,700,800,900,1000], "tickCount": 500, "labels": false, "title": null}},
       "y": {"field": "v", "type": "quantitative", "scale": {"domain": [-9.5, 428.6], "nice": false, "zero": false},
        "axis": {"values": [0,50,100,150,200,250,300,350,400], "tickCount": 500, "labelExpr": "datum.value % 100 === 0 ? format(datum.value, '.2f') : ''", "tickSize": {"condition": {"test": "datum.value % 100 === 0", "value": 6}, "value": 3}, "title": null}},
       "y2": {"field": "l"}
      }},
     {"data": {"name": "blueTop"}, "mark": {"type": "line", "color": "#0000c8", "strokeWidth": 1.3},
      "encoding": {"x": {"field": "t", "type": "quantitative"}, "y": {"field": "v", "type": "quantitative"}}},
     {"data": {"name": "dotsB"}, "mark": {"type": "rule", "color": "#000000", "strokeWidth": 1.5, "strokeDash": [2, 2]},
      "encoding": {"x": {"field": "a", "type": "quantitative"}, "x2": {"field": "b"}, "y": {"datum": 0, "type": "quantitative"}}}
    ]
   },
   {
    "width": 805, "height": 92,
    "title": {"text": "Stockkraft-Summe-rechts [N]", "color": "#ff1a1a", "offset": -6},
    "layer": [
     {"data": {"name": "redTop"}, "mark": {"type": "area", "color": "#ff0000", "opacity": 1},
      "encoding": {
       "x": {"field": "t", "type": "quantitative", "scale": {"domain": [-43.8, 1093.7], "nice": false, "zero": false},
        "axis": {"values": [-40,-20,0,20,40,60,80,100,120,140,160,180,200,220,240,260,280,300,320,340,360,380,400,420,440,460,480,500,520,540,560,580,600,620,640,660,680,700,720,740,760,780,800,820,840,860,880,900,920,940,960,980,1000,1020,1040,1060,1080], "tickCount": 500,
         "labelExpr": "datum.value % 200 === 0 && datum.value >= 0 ? format(datum.value, '.2f') : ''", "tickSize": {"condition": {"test": "datum.value % 100 === 0", "value": 5}, "value": 3},
         "labelAlign": "right", "labelOffset": 6, "labelPadding": 2, "title": "t [s]", "titleAnchor": "end", "titleAlign": "right", "titleX": 805, "titleY": 17, "titleBaseline": "alphabetic", "titleFontWeight": "bold", "titleFontSize": 11, "titleColor": "#333333"}},
       "y": {"field": "v", "type": "quantitative", "scale": {"domain": [-9.5, 428.6], "nice": false, "zero": false},
        "axis": {"values": [0,50,100,150,200,250,300,350,400], "tickCount": 500, "labelExpr": "datum.value % 100 === 0 ? format(datum.value, '.2f') : ''", "tickSize": {"condition": {"test": "datum.value % 100 === 0", "value": 6}, "value": 3}, "title": null}},
       "y2": {"field": "l"}
      }},
     {"data": {"name": "redTop"}, "mark": {"type": "line", "color": "#ff0000", "strokeWidth": 1.3},
      "encoding": {"x": {"field": "t", "type": "quantitative"}, "y": {"field": "v", "type": "quantitative"}}},
     {"data": {"name": "dotsR"}, "mark": {"type": "rule", "color": "#000000", "strokeWidth": 1.5, "strokeDash": [2, 2]},
      "encoding": {"x": {"field": "a", "type": "quantitative"}, "x2": {"field": "b"}, "y": {"datum": 0, "type": "quantitative"}}}
    ]
   }
  ]
 },
 {
  "spacing": 9,
  "bounds": "flush",
  "resolve": {"scale": {"x": "independent", "y": "independent"}},
  "vconcat": [
   {
    "width": 805, "height": 121,
    "title": {"text": "Stockkraft-Summe-links [N]", "color": "#2a2ad8", "offset": -15.5, "fontSize": 13},
    "layer": [
     {"data": {"name": "blueBot"}, "mark": {"type": "line", "color": "#1c1cd8", "strokeWidth": 1.8},
      "encoding": {
       "x": {"field": "t", "type": "quantitative", "scale": {"domain": [48.33, 73.65], "nice": false, "zero": false}, "axis": {"values": [50,52.5,55,57.5,60,62.5,65,67.5,70,72.5], "tickCount": 500, "labels": false, "title": null}},
       "y": {"field": "v", "type": "quantitative", "scale": {"domain": [-4, 240.4], "nice": false, "zero": false},
        "axis": {"values": [0,10,20,30,40,50,60,70,80,90,100,110,120,130,140,150,160,170,180,190,200,210,220,230,240], "tickCount": 500, "labelExpr": "datum.value % 40 === 0 && datum.value <= 200 ? format(datum.value, '.2f') : ''", "tickSize": {"condition": {"test": "datum.value % 40 === 0", "value": 6}, "value": 3}, "title": null}}
      }}
    ]
   },
   {
    "width": 805, "height": 119,
    "title": {"text": "Stockkraft-Summe-rechts [N]", "color": "#ff2a2a", "offset": -10, "fontSize": 13},
    "layer": [
     {"data": {"values": [{"v": 0}]}, "mark": {"type": "rule", "color": "#777777", "strokeWidth": 1.2, "strokeDash": [2, 3]},
      "encoding": {"y": {"field": "v", "type": "quantitative", "scale": {"domain": [-3.1, 184], "nice": false, "zero": false},
        "axis": {"values": [0,10,20,30,40,50,60,70,80,90,100,110,120,130,140,150,160,170,180], "tickCount": 500, "labelExpr": "datum.value % 40 === 0 ? format(datum.value, '.2f') : ''", "tickSize": {"condition": {"test": "datum.value % 40 === 0", "value": 6}, "value": 3}, "title": null}}}},
     {"data": {"name": "redBot"}, "mark": {"type": "line", "color": "#ff0000", "strokeWidth": 1.6},
      "encoding": {
       "x": {"field": "t", "type": "quantitative", "scale": {"domain": [48.33, 73.65], "nice": false, "zero": false},
        "axis": {"values": [48.5,49,49.5,50,50.5,51,51.5,52,52.5,53,53.5,54,54.5,55,55.5,56,56.5,57,57.5,58,58.5,59,59.5,60,60.5,61,61.5,62,62.5,63,63.5,64,64.5,65,65.5,66,66.5,67,67.5,68,68.5,69,69.5,70,70.5,71,71.5,72,72.5,73,73.5], "tickCount": 500,
         "labelExpr": "datum.value % 5 === 0 ? format(datum.value, '.1f') : ''", "tickSize": {"condition": {"test": "datum.value % 2.5 === 0", "value": 4}, "value": 2},
         "labelAlign": "right", "labelOffset": 5, "labelPadding": -1, "title": "t [s]", "titleAnchor": "end", "titleAlign": "right", "titleX": 805, "titleY": 12, "titleBaseline": "alphabetic", "titleFontWeight": "bold", "titleFontSize": 11, "titleColor": "#333333"}},
       "y": {"field": "v", "type": "quantitative"}
      }}
    ]
   }
  ]
 }
]
}
